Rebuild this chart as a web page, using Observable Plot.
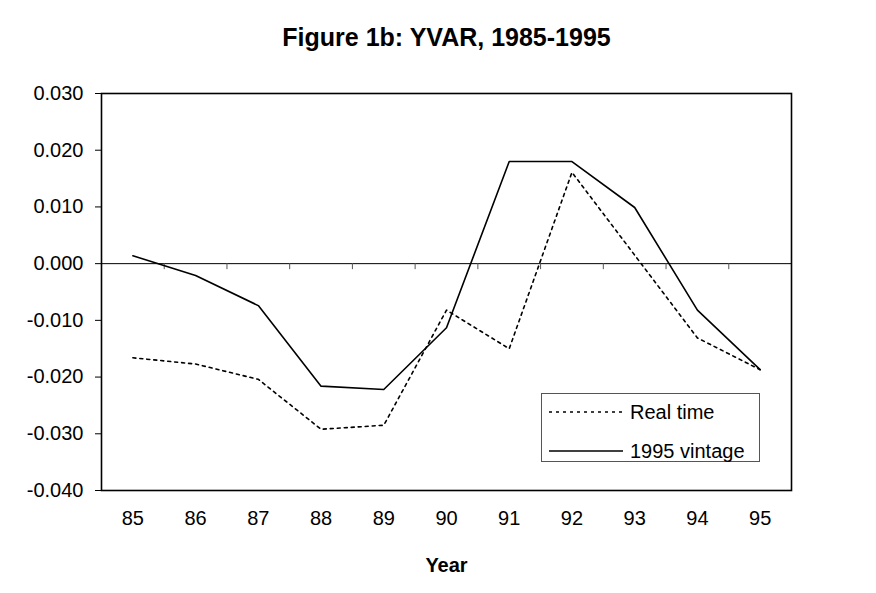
<!DOCTYPE html>
<html>
<head>
<meta charset="utf-8">
<script src="https://cdn.jsdelivr.net/npm/d3@7"></script>
<script src="https://cdn.jsdelivr.net/npm/@observablehq/plot@0.6"></script>
<style>
  html, body { margin: 0; padding: 0; background: #fff; }
  #wrap { position: relative; width: 876px; height: 593px; font-family: "Liberation Sans", Arial, sans-serif; }
  #legend { position: absolute; left: 541px; top: 393px; }
</style>
</head>
<body>
<div id="wrap"></div>
<script>
const title = "Figure 1b: YVAR, 1985-1995";
const xLabel = "Year";
const years = [85, 86, 87, 88, 89, 90, 91, 92, 93, 94, 95];
const realTime = [-0.0166, -0.0177, -0.0204, -0.0292, -0.0285, -0.0082, -0.0150, 0.0161, 0.0015, -0.0131, -0.0187];
const vintage1995 = [0.0014, -0.0021, -0.0074, -0.0216, -0.0222, -0.0113, 0.0180, 0.0180, 0.0099, -0.0082, -0.0187];
const yTicks = [-0.04, -0.03, -0.02, -0.01, 0, 0.01, 0.02, 0.03];
const seriesNames = ["Real time", "1995 vintage"];

const W = 876, H = 593;
const mL = 101, mR = 85, mT = 93, mB = 103;
const yMin = -0.04, yMax = 0.03;
const innerH = H - mT - mB;
const zeroPx = mT + (yMax - 0) / (yMax - yMin) * innerH;
const boundaries = years.slice(0, -1).map(d => d + 0.5);

const rows = [];
years.forEach((y, i) => {
  rows.push({year: y, value: realTime[i], series: seriesNames[0]});
  rows.push({year: y, value: vintage1995[i], series: seriesNames[1]});
});

const fmt = d => d.toFixed(3);

const chart = Plot.plot({
  width: W, height: H,
  marginLeft: mL, marginRight: mR, marginTop: mT, marginBottom: mB,
  style: {fontFamily: "Liberation Sans, Arial, sans-serif", fontSize: "20px", color: "#000", background: "#fff"},
  x: {domain: [years[0] - 0.5, years[years.length - 1] + 0.5], label: null},
  y: {domain: [yMin, yMax], label: null},
  marks: [
    Plot.frame({stroke: "#000", strokeWidth: 1.6}),
    Plot.ruleY([0], {stroke: "#000", strokeWidth: 1}),
    Plot.axisX(boundaries, {anchor: "bottom", tickSize: 6, tickFormat: () => "", dy: zeroPx - (H - mB), stroke: "#555", label: null}),
    Plot.axisX(years, {anchor: "bottom", tickSize: 0, tickPadding: 20, tickFormat: d => String(d), fontSize: 20, label: null}),
    Plot.axisY(yTicks, {anchor: "left", tickSize: 6, tickPadding: 12, tickFormat: fmt, fontSize: 20, label: null}),
    Plot.line(rows.filter(d => d.series === seriesNames[0]), {x: "year", y: "value", stroke: "#000", strokeWidth: 1.6, strokeDasharray: "3,4"}),
    Plot.line(rows.filter(d => d.series === seriesNames[1]), {x: "year", y: "value", stroke: "#000", strokeWidth: 1.6}),
    Plot.text([title], {frameAnchor: "top", dy: -(mT - 45), lineAnchor: "bottom", fontSize: 25, fontWeight: "bold"}),
    Plot.text([xLabel], {frameAnchor: "bottom", dy: 81, lineAnchor: "bottom", fontSize: 20, fontWeight: "bold"})
  ]
});
document.getElementById("wrap").appendChild(chart);

// Legend
const ns = "http://www.w3.org/2000/svg";
const lg = document.createElementNS(ns, "svg");
lg.setAttribute("id", "legend");
lg.setAttribute("width", 219);
lg.setAttribute("height", 69);
const box = document.createElementNS(ns, "rect");
box.setAttribute("x", 0.5); box.setAttribute("y", 0.5);
box.setAttribute("width", 218); box.setAttribute("height", 68);
box.setAttribute("fill", "#fff"); box.setAttribute("stroke", "#555"); box.setAttribute("stroke-width", 1);
lg.appendChild(box);
seriesNames.forEach((name, i) => {
  const cy = 19 + i * 39;
  const ln = document.createElementNS(ns, "line");
  ln.setAttribute("x1", 8); ln.setAttribute("x2", 82);
  ln.setAttribute("y1", cy); ln.setAttribute("y2", cy);
  ln.setAttribute("stroke", "#000"); ln.setAttribute("stroke-width", 1.6);
  if (i === 0) ln.setAttribute("stroke-dasharray", "3,4");
  lg.appendChild(ln);
  const t = document.createElementNS(ns, "text");
  t.setAttribute("x", 89); t.setAttribute("y", cy);
  t.setAttribute("dy", "0.35em");
  t.setAttribute("font-size", 20);
  t.setAttribute("font-family", "Liberation Sans, Arial, sans-serif");
  t.textContent = name;
  lg.appendChild(t);
});
document.getElementById("wrap").appendChild(lg);
</script>
</body>
</html>
